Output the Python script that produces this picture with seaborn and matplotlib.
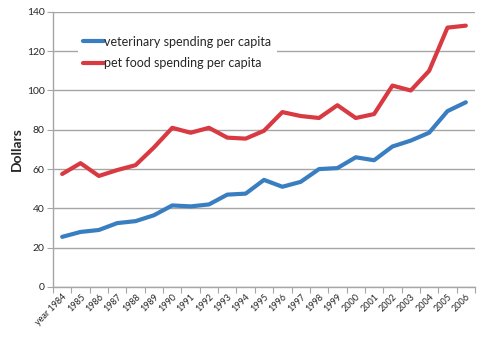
import matplotlib
matplotlib.use("Agg")
import matplotlib.pyplot as plt
import seaborn as sns
import pandas as pd
import numpy as np

years = ["year 1984", "1985", "1986", "1987", "1988", "1989", "1990", "1991", "1992",
         "1993", "1994", "1995", "1996", "1997", "1998", "1999", "2000", "2001",
         "2002", "2003", "2004", "2005", "2006"]
vet = [25.5, 28, 29, 32.5, 33.5, 36.5, 41.5, 41, 42, 47, 47.5, 54.5, 51, 53.5,
       60, 60.5, 66, 64.5, 71.5, 74.5, 78.5, 89.5, 94]
food = [57.5, 63, 56.5, 59.5, 62, 71, 81, 78.5, 81, 76, 75.5, 79.5, 89, 87, 86,
        92.5, 86, 88, 102.5, 100, 110, 132, 133]
series_names = ["veterinary spending per capita", "pet food spending per capita"]
yticks = [0, 20, 40, 60, 80, 100, 120, 140]

sns.set_style("white")
plt.rcParams['font.family'] = ['Lato', 'DejaVu Sans']

n = len(years)
idx = list(range(n))
df = pd.DataFrame({
    "x": idx + idx,
    "value": vet + food,
    "series": [series_names[0]] * n + [series_names[1]] * n,
})

fig = plt.figure(figsize=(5, 3.4), dpi=100)
ax = fig.add_axes([0.106, 0.156, 0.844, 0.809])

palette = {series_names[0]: "#3A7EC2", series_names[1]: "#D93A42"}
sns.lineplot(data=df, x="x", y="value", hue="series", palette=palette,
             linewidth=3, ax=ax, legend=True, zorder=3)

ax.set_xlim(-0.5, n - 0.5)
ax.set_ylim(0, 140)
ax.set_yticks(yticks)
ax.set_yticklabels([str(v) for v in yticks], fontsize=7.5)
ax.yaxis.grid(True, color="#A6A6A6", linewidth=1)
ax.set_axisbelow(True)

ax.set_xticks(np.arange(-0.5, n, 1.0))
ax.set_xticklabels([])
ax.set_xticks(idx, minor=True)
ax.set_xticklabels(years, minor=True, rotation=45, ha="right", rotation_mode="anchor",
                   fontsize=6.5)
ax.tick_params(axis="x", which="major", length=4, color="#A6A6A6", direction="out", bottom=True)
ax.tick_params(axis="x", which="minor", length=0, pad=4)
ax.tick_params(axis="y", which="major", length=4, color="#A6A6A6", direction="out", left=True, pad=2)

for s in ["top", "right"]:
    ax.spines[s].set_visible(False)
for s in ["left", "bottom"]:
    ax.spines[s].set_color("#A6A6A6")
    ax.spines[s].set_linewidth(1)

ax.set_xlabel("")
ax.set_ylabel("Dollars", fontsize=10, fontweight="bold", labelpad=3)

leg = ax.legend(loc="upper left", bbox_to_anchor=(0.045, 0.955), frameon=True,
                fontsize=9, handlelength=1.7, handletextpad=0.0,
                labelspacing=0.75, borderpad=0.4)
leg.get_frame().set_facecolor("white")
leg.get_frame().set_edgecolor("none")
leg.get_frame().set_alpha(1)

fig.savefig("out.png", dpi=100)
